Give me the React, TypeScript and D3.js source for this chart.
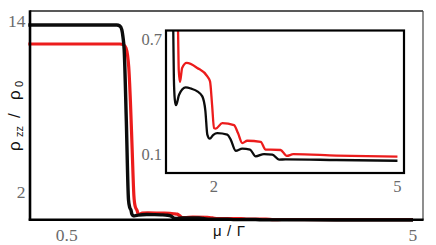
import React from "react";
import * as d3 from "d3";

// ---- data ----
const muBlack = [0, 1.15, 1.19, 1.215, 1.23, 1.246, 1.274, 1.302, 1.318, 1.335, 1.345, 1.36, 1.38, 1.43, 1.538, 1.63, 1.728, 1.81, 1.86, 1.892, 1.931, 1.99, 2.055, 2.218, 2.274, 2.356, 2.464, 2.59, 2.683, 2.818, 2.954, 3.064, 3.17, 4.0, 5.0];
const rhoBlack = [13.72, 13.72, 13.65, 13.4, 12.9, 12.0, 7.0, 1.5, 0.95, 0.75, 0.5, 0.39, 0.359, 0.414, 0.452, 0.445, 0.431, 0.405, 0.33, 0.206, 0.185, 0.205, 0.214, 0.206, 0.18, 0.122, 0.133, 0.128, 0.093, 0.105, 0.102, 0.076, 0.077, 0.074, 0.07];

const muRed = [0, 1.19, 1.24, 1.27, 1.29, 1.305, 1.327, 1.35, 1.372, 1.39, 1.413, 1.425, 1.445, 1.48, 1.555, 1.728, 1.892, 1.936, 1.97, 2.001, 2.029, 2.137, 2.328, 2.393, 2.464, 2.545, 2.764, 2.846, 2.928, 3.09, 3.19, 3.297, 4.0, 5.0];
const rhoRed = [12.39, 12.39, 12.33, 12.1, 11.6, 10.8, 8.4, 5.0, 1.8, 1.0, 0.75, 0.54, 0.48, 0.553, 0.579, 0.553, 0.509, 0.483, 0.36, 0.24, 0.237, 0.266, 0.255, 0.214, 0.162, 0.174, 0.168, 0.128, 0.128, 0.126, 0.095, 0.104, 0.097, 0.091];

const mainXTicks = [0.5, 5];
const mainYTicks = [2, 14];
const insetXTicks = [2, 5];
const insetYTicks = [0.1, 0.7];

const W = 436;
const H = 245;

type P = [number, number];
const zip = (a: number[], b: number[]): P[] => a.map((v, i) => [v, b[i]]);

export default function App() {
  // main scales
  const x = d3.scaleLinear().domain([0.022, 5.13]).range([30, 423]);
  const y = d3.scaleLinear().domain([0, 14.7]).range([221, 11]);
  // inset scales
  const xi = d3.scaleLinear().domain([1.2, 5.107]).range([165, 404]);
  const yi = d3.scaleLinear().domain([0, 0.75]).range([174.2, 30.1]);

  const black = zip(muBlack, rhoBlack);
  const red = zip(muRed, rhoRed);

  const lineMain = d3
    .line<P>()
    .x((d) => x(d[0]))
    .y((d) => y(d[1]))
    .curve(d3.curveMonotoneX);
  const lineInset = d3
    .line<P>()
    .x((d) => xi(d[0]))
    .y((d) => yi(d[1]))
    .curve(d3.curveMonotoneX);

  const tickColor = "#6a6a6a";
  const serif = "Liberation Serif";
  const sans = "Liberation Sans";

  const ix0 = 166, ix1 = 404, iy0 = 30.5, iy1 = 173;

  return (
    <div style={{ position: "absolute", left: 0, top: 0 }}>
      <svg width={W} height={H} viewBox={`0 0 ${W} ${H}`} style={{ display: "block", background: "#fff" }}>
        <defs>
          <clipPath id="insetClip">
            <rect x={ix0} y={iy0} width={ix1 - ix0} height={iy1 - iy0} />
          </clipPath>
        </defs>
        <rect x={0} y={0} width={W} height={H} fill="#fff" />

        {/* main curves */}
        <path d={lineMain(red) || ""} fill="none" stroke="#ec1c1c" strokeWidth={3.2} strokeLinejoin="round" />
        <path d={lineMain(black) || ""} fill="none" stroke="#0c0c0c" strokeWidth={3.4} strokeLinejoin="round" />

        {/* main frame */}
        <line x1={30} y1={11} x2={423} y2={11} stroke="#222" strokeWidth={1.4} />
        <line x1={423} y1={11} x2={423} y2={220} stroke="#444" strokeWidth={1.2} />
        <line x1={30} y1={10.3} x2={30} y2={220.5} stroke="#000" strokeWidth={2.6} />
        <line x1={28.7} y1={219.7} x2={423.6} y2={219.7} stroke="#000" strokeWidth={2.4} />

        {/* main ticks */}
        {mainYTicks.map((t) => (
          <text key={"my" + t} x={25.5} y={y(t) + 6} textAnchor="end" fontFamily={serif} fontSize={17.5} fill={tickColor}>
            {t}
          </text>
        ))}
        {mainXTicks.map((t) => (
          <text key={"mx" + t} x={x(t)} y={241} textAnchor="middle" fontFamily={serif} fontSize={17.5} fill={tickColor}>
            {t}
          </text>
        ))}

        {/* axis labels */}
        <text x={229} y={236} textAnchor="middle" fontFamily={sans} fontSize={15} fill="#111" textLength={32} lengthAdjust="spacing">
          μ / Γ
        </text>
        <text transform="translate(20,151) rotate(-90)" fontFamily={sans} fontSize={17} fill="#111">
          <tspan x={0}>ρ</tspan>
          <tspan x={14} fontSize={11} dy={3}>zz</tspan>
          <tspan x={33} dy={-3}>/</tspan>
          <tspan x={51}>ρ</tspan>
          <tspan x={64} fontSize={11} dy={3}>0</tspan>
        </text>

        {/* inset */}
        <rect x={ix0} y={iy0} width={ix1 - ix0} height={iy1 - iy0} fill="#fff" />
        <g clipPath="url(#insetClip)">
          <path d={lineInset(red) || ""} fill="none" stroke="#ec1c1c" strokeWidth={2.3} strokeLinejoin="round" />
          <path d={lineInset(black) || ""} fill="none" stroke="#0c0c0c" strokeWidth={2.3} strokeLinejoin="round" />
        </g>
        <rect x={ix0} y={iy0} width={ix1 - ix0} height={iy1 - iy0} fill="none" stroke="#000" strokeWidth={2.2} />
        {insetYTicks.map((t) => (
          <text key={"iy" + t} x={162} y={yi(t) + 5} textAnchor="end" fontFamily={serif} fontSize={16.5} fill={tickColor}>
            {t}
          </text>
        ))}
        {insetXTicks.map((t) => (
          <text key={"ix" + t} x={xi(t)} y={191.7} textAnchor="middle" fontFamily={serif} fontSize={16.5} fill={tickColor}>
            {t}
          </text>
        ))}
      </svg>
    </div>
  );
}
